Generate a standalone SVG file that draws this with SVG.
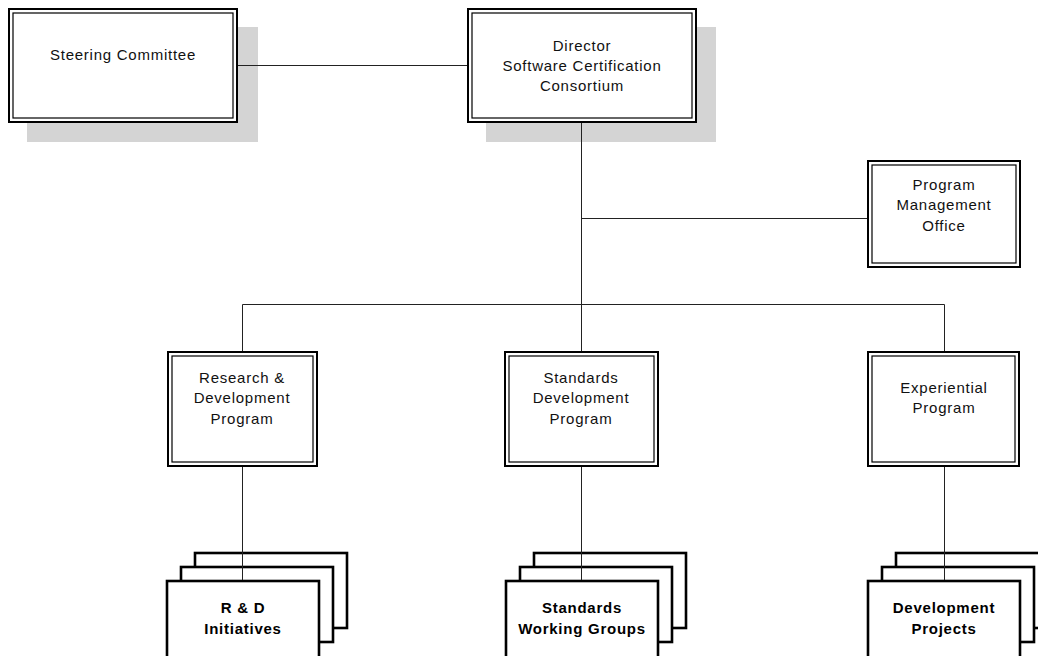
<svg xmlns="http://www.w3.org/2000/svg" width="1038" height="656" viewBox="0 0 1038 656">
<style>
.shadow{fill:#d4d4d4;stroke:none}
.outer{fill:#fff;stroke:#000;stroke-width:2}
.inner{fill:none;stroke:#000;stroke-width:1.2}
.stack{fill:#fff;stroke:#000;stroke-width:2.6}
.t{font-family:"Liberation Sans",Arial,sans-serif;font-size:15px;letter-spacing:0.75px;fill:#111;text-anchor:middle}
.b{font-family:"Liberation Sans",Arial,sans-serif;font-size:15px;font-weight:bold;letter-spacing:0.75px;fill:#000;text-anchor:middle}
.c{stroke:#222;stroke-width:1;fill:none}
</style>
<rect width="1038" height="656" fill="#fff"/>
<g id="steering">
<rect class="shadow" x="27" y="27" width="231" height="115"/>
<rect class="outer" x="9" y="9" width="228" height="113"/>
<rect class="inner" x="13" y="13" width="220" height="105"/>
<text class="t" x="123" y="60">Steering Committee</text>
</g>
<g id="director">
<rect class="shadow" x="486" y="27" width="230" height="115"/>
<rect class="outer" x="468" y="9" width="228" height="113"/>
<rect class="inner" x="472" y="13" width="220" height="105"/>
<text class="t" x="582" y="50.5">Director</text>
<text class="t" x="582" y="71">Software Certification</text>
<text class="t" x="582" y="91">Consortium</text>
</g>
<g id="pmo">
<rect class="outer" x="868" y="161" width="152" height="106"/>
<rect class="inner" x="872" y="165" width="144" height="98"/>
<text class="t" x="944" y="190">Program</text>
<text class="t" x="944" y="210">Management</text>
<text class="t" x="944" y="231">Office</text>
</g>
<g id="rd-program">
<rect class="outer" x="168" y="352" width="149" height="114"/>
<rect class="inner" x="172" y="356" width="141" height="106"/>
<text class="t" x="242" y="383">Research &amp;</text>
<text class="t" x="242" y="403">Development</text>
<text class="t" x="242" y="424">Program</text>
</g>
<g id="standards-program">
<rect class="outer" x="505" y="352" width="153" height="114"/>
<rect class="inner" x="509" y="356" width="145" height="106"/>
<text class="t" x="581" y="383">Standards</text>
<text class="t" x="581" y="403">Development</text>
<text class="t" x="581" y="424">Program</text>
</g>
<g id="experiential-program">
<rect class="outer" x="868" y="352" width="151" height="114"/>
<rect class="inner" x="872" y="356" width="143" height="106"/>
<text class="t" x="944" y="393">Experiential</text>
<text class="t" x="944" y="413">Program</text>
</g>
<g id="rd-initiatives">
<rect class="stack" x="195" y="553" width="152" height="75"/>
<rect class="stack" x="181" y="567" width="152" height="75"/>
<rect class="stack" x="167" y="581" width="152" height="80"/>
<text class="b" x="243" y="613">R &amp; D</text>
<text class="b" x="243" y="634">Initiatives</text>
</g>
<g id="working-groups">
<rect class="stack" x="534" y="553" width="152" height="75"/>
<rect class="stack" x="520" y="567" width="152" height="75"/>
<rect class="stack" x="506" y="581" width="152" height="80"/>
<text class="b" x="582" y="613">Standards</text>
<text class="b" x="582" y="634">Working Groups</text>
</g>
<g id="dev-projects">
<rect class="stack" x="896" y="553" width="152" height="75"/>
<rect class="stack" x="882" y="567" width="152" height="75"/>
<rect class="stack" x="868" y="581" width="152" height="80"/>
<text class="b" x="944" y="613">Development</text>
<text class="b" x="944" y="634">Projects</text>
</g>
<g id="connectors">
<line class="c" x1="238" y1="65.5" x2="467" y2="65.5"/>
<line class="c" x1="581.5" y1="123" x2="581.5" y2="351"/>
<line class="c" x1="581.5" y1="218.5" x2="867" y2="218.5"/>
<line class="c" x1="242.5" y1="304.5" x2="944.5" y2="304.5"/>
<line class="c" x1="242.5" y1="304.5" x2="242.5" y2="351"/>
<line class="c" x1="944.5" y1="304.5" x2="944.5" y2="351"/>
<line class="c" x1="242.5" y1="467" x2="242.5" y2="580"/>
<line class="c" x1="581.5" y1="467" x2="581.5" y2="580"/>
<line class="c" x1="944.5" y1="467" x2="944.5" y2="580"/>
</g>
</svg>
